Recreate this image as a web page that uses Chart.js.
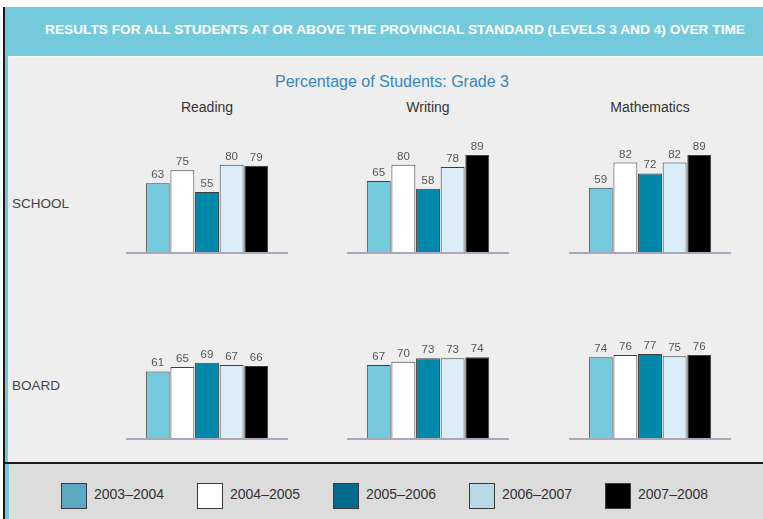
<!DOCTYPE html>
<html>
<head>
<meta charset="utf-8">
<script src="https://cdn.jsdelivr.net/npm/chart.js@4.4.1/dist/chart.umd.min.js"></script>
<style>
  html, body { margin: 0; padding: 0; }
  body { width: 763px; height: 519px; position: relative; overflow: hidden; background: #ffffff; font-family: 'Liberation Sans', Arial, sans-serif; }
  .abs { position: absolute; }
  #frameLine { left: 3px; top: 7px; width: 2px; height: 512px; background: #1a1a1a; }
  #stripe { left: 5px; top: 7px; width: 758px; height: 512px; background: #74cadc; }
  #header { left: 5px; top: 7px; width: 758px; height: 48px; }
  #headerText { position: absolute; left: 395px; top: 22px; color: #fff; font-weight: bold; font-size: 13px; white-space: nowrap; transform-origin: 0 0; }
  #panel { left: 8px; top: 56px; width: 755px; height: 406px; background: #eeeeee; border-top: 2px solid #fbf8e8; box-sizing: border-box; }
  #divider { left: 3px; top: 462px; width: 760px; height: 2px; background: #1a1a1a; }
  #legendPanel { left: 9px; top: 464px; width: 754px; height: 55px; background: #dcdcdc; }
  .title { color: #3588bd; font-size: 16px; white-space: nowrap; transform: translateX(-50%); }
  .colHead { color: #333; font-size: 14px; white-space: nowrap; transform: translateX(-50%); }
  .rowHead { color: #444; font-size: 13.5px; white-space: nowrap; }
  .swatch { width: 24px; height: 24px; border: 1px solid #3a3a3a; }
  .legText { color: #333; font-size: 14px; white-space: nowrap; }
  canvas.chart { position: absolute; }
</style>
</head>
<body>
<div id="frameLine" class="abs"></div>
<div id="stripe" class="abs"></div>
<div id="header" class="abs"></div>
<div id="headerText">RESULTS FOR ALL STUDENTS AT OR ABOVE THE PROVINCIAL STANDARD (LEVELS 3 AND 4) OVER TIME</div>
<div id="panel" class="abs"></div>
<div id="divider" class="abs"></div>
<div id="legendPanel" class="abs"></div>

<script>
// ---- data ----
const chartTitle = 'Percentage of Students: Grade 3';
const periods = ['2003–2004', '2004–2005', '2005–2006', '2006–2007', '2007–2008'];
const subjects = ['Reading', 'Writing', 'Mathematics'];
const groups = ['SCHOOL', 'BOARD'];

const schoolReading = [63, 75, 55, 80, 79];
const schoolWriting = [65, 80, 58, 78, 89];
const schoolMath = [59, 82, 72, 82, 89];
const boardReading = [61, 65, 69, 67, 66];
const boardWriting = [67, 70, 73, 73, 74];
const boardMath = [74, 76, 77, 75, 76];

const barColors = ['#74cadc', '#ffffff', '#0088aa', '#dcedfa', '#000000'];
const legendColors = ['#5ba9c2', '#ffffff', '#006b8c', '#b8d8e3', '#000000'];

// ---- layout ----
const colCenters = [207, 428, 650];
const rowBaselines = [252, 438];
const rowLabelY = [196, 378];
const CW = 162, CH = 122, PLOT_H = 120;

const values = [
  [schoolReading, schoolWriting, schoolMath],
  [boardReading, boardWriting, boardMath]
];

function addText(cls, text, x, y) {
  const el = document.createElement('div');
  el.className = 'abs ' + cls;
  el.textContent = text;
  el.style.left = x + 'px';
  el.style.top = y + 'px';
  document.body.appendChild(el);
  return el;
}

// header fit to 700px
const ht = document.getElementById('headerText');
const hw = ht.getBoundingClientRect().width;
ht.style.left = '45px';
ht.style.transform = 'scaleX(' + (700 / hw) + ')';

addText('title', chartTitle, 392, 73);
subjects.forEach((s, i) => addText('colHead', s, colCenters[i], 99));
groups.forEach((g, i) => addText('rowHead', g, 12, rowLabelY[i]));

// legend
periods.forEach((p, i) => {
  const sw = document.createElement('div');
  sw.className = 'abs swatch';
  sw.style.left = (61 + i * 136) + 'px';
  sw.style.top = '483px';
  sw.style.background = legendColors[i];
  document.body.appendChild(sw);
  addText('legText', p, 94 + i * 136, 486);
});

const baselinePlugin = {
  id: 'baseline',
  beforeDatasetsDraw(chart) {
    const ctx = chart.ctx;
    const y = chart.scales.y.getPixelForValue(0) + 1;
    ctx.save();
    ctx.strokeStyle = '#a9a7b9';
    ctx.lineWidth = 2;
    ctx.beginPath();
    ctx.moveTo(0, y);
    ctx.lineTo(chart.width, y);
    ctx.stroke();
    ctx.restore();
  }
};

const valueLabels = {
  id: 'valueLabels',
  afterDatasetsDraw(chart) {
    const ctx = chart.ctx;
    ctx.save();
    ctx.font = '11.5px "Liberation Sans", Arial, sans-serif';
    ctx.fillStyle = '#555';
    ctx.textAlign = 'center';
    ctx.textBaseline = 'alphabetic';
    chart.data.datasets.forEach((ds, i) => {
      const bar = chart.getDatasetMeta(i).data[0];
      ctx.fillText(ds.data[0], bar.x, bar.y - 5);
    });
    ctx.restore();
  }
};

values.forEach((row, r) => {
  row.forEach((vals, c) => {
    const canvas = document.createElement('canvas');
    canvas.className = 'chart';
    canvas.width = CW;
    canvas.height = CH;
    canvas.style.width = CW + 'px';
    canvas.style.height = CH + 'px';
    canvas.style.left = (colCenters[c] - CW / 2) + 'px';
    canvas.style.top = (rowBaselines[r] - PLOT_H) + 'px';
    document.body.appendChild(canvas);

    new Chart(canvas.getContext('2d'), {
      type: 'bar',
      data: {
        labels: [''],
        datasets: periods.map((p, i) => ({
          label: p,
          data: [vals[i]],
          backgroundColor: barColors[i],
          borderColor: '#3e3e3e',
          borderWidth: 1
        }))
      },
      options: {
        responsive: false,
        animation: false,
        events: [],
        layout: { padding: { top: 0, bottom: CH - PLOT_H, left: 0, right: 0 } },
        datasets: { bar: { categoryPercentage: 0.76, barPercentage: 0.97 } },
        scales: {
          x: { display: false },
          y: { display: false, min: 0, max: 110 }
        },
        plugins: { legend: { display: false }, tooltip: { enabled: false } }
      },
      plugins: [baselinePlugin, valueLabels]
    });
  });
});
</script>
</body>
</html>
